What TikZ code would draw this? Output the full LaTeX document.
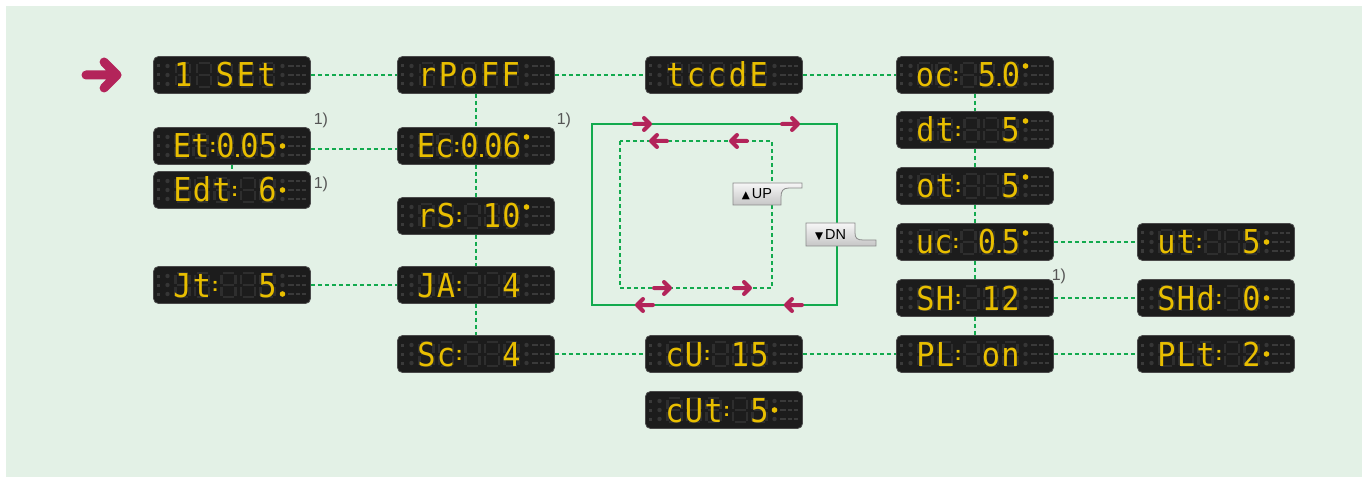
\documentclass[tikz,border=0pt]{standalone}
\usepackage{fontspec}
\setmainfont{Liberation Sans}
\newfontfamily\segfont[FakeStretch=0.92]{DejaVu Sans Mono}
\newfontfamily\symfont{DejaVu Sans}
\usetikzlibrary{calc}
\definecolor{bg}{HTML}{E3F1E6}
\definecolor{dispfill}{HTML}{1C1C1C}
\definecolor{dispedge}{HTML}{4A4A4A}
\definecolor{segyellow}{HTML}{E8BE00}
\definecolor{ghostc}{HTML}{2E2E2E}
\definecolor{sidedot}{HTML}{363636}
\definecolor{sidetext}{HTML}{3A3A3A}
\definecolor{lineg}{HTML}{12AA4E}
\definecolor{arrowred}{HTML}{B3245A}
\definecolor{notec}{HTML}{555555}
\definecolor{btntop}{HTML}{F6F6F6}
\definecolor{btnbot}{HTML}{C6C6C6}
\definecolor{btnedge}{HTML}{8A8A8A}
\tikzset{
  disp/.style={draw=dispedge, fill=dispfill, rounded corners=5bp, minimum width=157bp, minimum height=37bp, inner sep=0pt, line width=0.8bp},
  segtxt/.style={text=segyellow, font=\segfont\fontsize{33}{33}\selectfont, inner sep=0pt},
  ghost/.style={draw=ghostc, line width=2.4bp},
  sidetxt/.style={draw=sidetext, line width=1.5bp},
  conn/.style={draw=lineg, line width=1.3bp, dash pattern=on 4bp off 3bp},
  loopsolid/.style={draw=lineg, line width=1.4bp},
  loopdash/.style={draw=lineg, line width=1.2bp, dash pattern=on 4bp off 3bp},
  marr/.style={draw=arrowred, line width=4bp, line cap=round, line join=round},
  note/.style={text=notec, font=\fontsize{16}{16}\selectfont, inner sep=0pt},
  btntext/.style={font=\fontsize{14.5}{14.5}\selectfont, inner sep=0pt, text=black},
  btn/.style={draw=btnedge, line width=0.8bp, top color=btntop, bottom color=btnbot},
  rarr/.pic={\draw[marr] (-8,0) -- (8,0) (2,-6) -- (8,0) -- (2,6);},
  larr/.pic={\draw[marr] (8,0) -- (-8,0) (-2,-6) -- (-8,0) -- (-2,6);}
}
\newcommand{\segc}[1]{\makebox[\segW pt]{#1}}
\newcommand{\segcol}{\makebox[6.66pt]{\raisebox{6pt}{\normalfont\bfseries\fontsize{20}{20}\selectfont :}}}
\newcommand{\segdot}{\makebox[5.56pt]{\normalfont\bfseries\fontsize{20}{20}\selectfont .}}
% #1 name, #2 position, #3 content, #4 lit indicator (0 none,1 top,2 mid,3 bottom),
% #5 cells before the colon (9 none), #6 cells before the decimal point (9 none)
\newcommand{\Disp}[6]{%
  \node[disp] (#1) at (#2) {};
  \pgfmathsetmacro\segW{(105-(#5<9)*6.66-(#6<9)*5.56)/5}
  \begin{scope}[shift={(#1.center)}]
    \foreach \i in {0,...,4}{%
      \pgfmathsetmacro\gx{-59.5+\segW*(\i+0.5)+(\i>#5-0.5)*6.66+(\i>#6-0.5)*5.56}
      \draw[ghost] (\gx-5.5,-12) -- (\gx+5.5,-12) (\gx-5.5,0) -- (\gx+5.5,0) (\gx-5.5,12) -- (\gx+5.5,12)
        (\gx-7,-10.5) -- (\gx-7,-1.5) (\gx-7,1.5) -- (\gx-7,10.5)
        (\gx+7,-10.5) -- (\gx+7,-1.5) (\gx+7,1.5) -- (\gx+7,10.5);
    }
    \foreach \yy in {-9,0,9}{%
      \fill[sidedot] (-64.5,\yy) circle (2.2);
      \fill[sidetext] (-75.5,\yy-1.5) rectangle (-72.5,\yy+1.5);
      \fill[sidedot] (50.5,\yy) circle (2.2);
      \draw[sidetxt] (56,\yy) -- (62,\yy) (63.5,\yy) -- (68,\yy) (69.5,\yy) -- (74,\yy);
    }
    \ifnum#4>0 \fill[segyellow] (50.5,{9*(#4-2)}) circle (2.8);\fi
    \node[segtxt, anchor=base west] (#1-t) at (-59.5,12) {#3};
  \end{scope}
}
\begin{document}
\begin{tikzpicture}[x=1bp,y=-1bp]
\useasboundingbox (0,0) rectangle (1362,477);
\fill[bg] (6,6) rectangle (1362,477);

% loop rectangles
\coordinate (o1) at (592,124);
\coordinate (o2) at (837,305);
\coordinate (i1) at (620,141);
\coordinate (i2) at (772,288);
\draw[loopsolid] (o1) rectangle (o2);
\draw[loopdash] (i1) rectangle (i2);
\pic at (642,124) {rarr};
\pic at (790,124) {rarr};
\pic at (645,305) {larr};
\pic at (794,305) {larr};
\pic at (659,141) {larr};
\pic at (739,141) {larr};
\pic at (662,288) {rarr};
\pic at (742,288) {rarr};

% displays
\Disp{set}{232,75}{\segc{1}\segc{}\segc{S}\segc{E}\segc{t}}{0}{9}{9}
\Disp{et}{232,146}{\segc{E}\segc{t}\segcol\segc{0}\segdot\segc{0}\segc{5}}{2}{2}{3}
\Disp{edt}{232,190}{\segc{E}\segc{d}\segc{t}\segcol\segc{}\segc{6}}{2}{3}{9}
\Disp{jt}{232,285}{\segc{J}\segc{t}\segcol\segc{}\segc{}\segc{5}}{3}{2}{9}
\Disp{rpoff}{476,75}{\segc{r}\segc{P}\segc{o}\segc{F}\segc{F}}{0}{9}{9}
\Disp{ec}{476,146}{\segc{E}\segc{c}\segcol\segc{0}\segdot\segc{0}\segc{6}}{1}{2}{3}
\Disp{rs}{476,216}{\segc{r}\segc{S}\segcol\segc{}\segc{1}\segc{0}}{1}{2}{9}
\Disp{ja}{476,285}{\segc{J}\segc{A}\segcol\segc{}\segc{}\segc{4}}{0}{2}{9}
\Disp{sc}{476,354}{\segc{S}\segc{c}\segcol\segc{}\segc{}\segc{4}}{0}{2}{9}
\Disp{tccde}{724,75}{\segc{t}\segc{c}\segc{c}\segc{d}\segc{E}}{0}{9}{9}
\Disp{cu}{724,354}{\segc{c}\segc{U}\segcol\segc{}\segc{1}\segc{5}}{0}{2}{9}
\Disp{cut}{724,410}{\segc{c}\segc{U}\segc{t}\segcol\segc{}\segc{5}}{2}{3}{9}
\Disp{oc}{975,75}{\segc{o}\segc{c}\segcol\segc{}\segc{5}\segdot\segc{0}}{1}{2}{4}
\Disp{dt}{975,130}{\segc{d}\segc{t}\segcol\segc{}\segc{}\segc{5}}{1}{2}{9}
\Disp{ot}{975,186}{\segc{o}\segc{t}\segcol\segc{}\segc{}\segc{5}}{1}{2}{9}
\Disp{uc}{975,242}{\segc{u}\segc{c}\segcol\segc{}\segc{0}\segdot\segc{5}}{1}{2}{4}
\Disp{sh}{975,298}{\segc{S}\segc{H}\segcol\segc{}\segc{1}\segc{2}}{0}{2}{9}
\Disp{pl}{975,354}{\segc{P}\segc{L}\segcol\segc{}\segc{o}\segc{n}}{0}{2}{9}
\Disp{ut}{1216,242}{\segc{u}\segc{t}\segcol\segc{}\segc{}\segc{5}}{2}{2}{9}
\Disp{shd}{1216,298}{\segc{S}\segc{H}\segc{d}\segcol\segc{}\segc{0}}{2}{3}{9}
\Disp{plt}{1216,354}{\segc{P}\segc{L}\segc{t}\segcol\segc{}\segc{2}}{2}{3}{9}

% connectors
\draw[conn] (set.east) -- (rpoff.west);
\draw[conn] (rpoff.east) -- (tccde.west);
\draw[conn] (tccde.east) -- (oc.west);
\draw[conn] ([yshift=-3bp]et.east) -- ([yshift=-3bp]ec.west);
\draw[conn] (et.south) -- (edt.north);
\draw[conn] (jt.east) -- (ja.west);
\draw[conn] (rpoff.south) -- (ec.north);
\draw[conn] (ec.south) -- (rs.north);
\draw[conn] (rs.south) -- (ja.north);
\draw[conn] (ja.south) -- (sc.north);
\draw[conn] (sc.east) -- (cu.west);
\draw[conn] (cu.east) -- (pl.west);
\draw[conn] (pl.east) -- (plt.west);
\draw[conn] (oc.south) -- (dt.north);
\draw[conn] (dt.south) -- (ot.north);
\draw[conn] (ot.south) -- (uc.north);
\draw[conn] (uc.south) -- (sh.north);
\draw[conn] (sh.south) -- (pl.north);
\draw[conn] (uc.east) -- (ut.west);
\draw[conn] (sh.east) -- (shd.west);

% start arrow
\coordinate (start) at (86,75);
\draw[draw=arrowred, line width=9bp, line cap=round, line join=round]
  (start) -- ([xshift=-36bp]set.west)
  ([xshift=-49bp,yshift=13bp]set.west) -- ([xshift=-36bp]set.west) -- ([xshift=-49bp,yshift=-13bp]set.west);

% notes
\node[note] (n1) at ([xshift=10bp,yshift=7bp]et.north east) {1)};
\node[note] (n2) at ([xshift=10bp,yshift=6bp]edt.east) {1)};
\node[note] (n3) at ([xshift=9bp,yshift=7bp]ec.north east) {1)};
\node[note] (n4) at ([xshift=5bp,yshift=3bp]sh.north east) {1)};

% buttons
\path[btn] (733,183) -- (802,183) -- (802,188) -- (789,188) .. controls (783,188) and (781,191) .. (781,197) -- (781,205) -- (733,205) -- cycle;
\node[btntext] (up) at (757,194.5) {{\symfont\fontsize{10.5}{10.5}\selectfont ▲}\kern2pt UP};
\path[btn] (806,223) -- (855,223) -- (855,233) .. controls (855,238) and (857,240) .. (863,240) -- (876,240) -- (876,246) -- (806,246) -- cycle;
\node[btntext] (dn) at (830.5,235) {{\symfont\fontsize{10.5}{10.5}\selectfont ▼}\kern2pt DN};
\end{tikzpicture}
\end{document}
